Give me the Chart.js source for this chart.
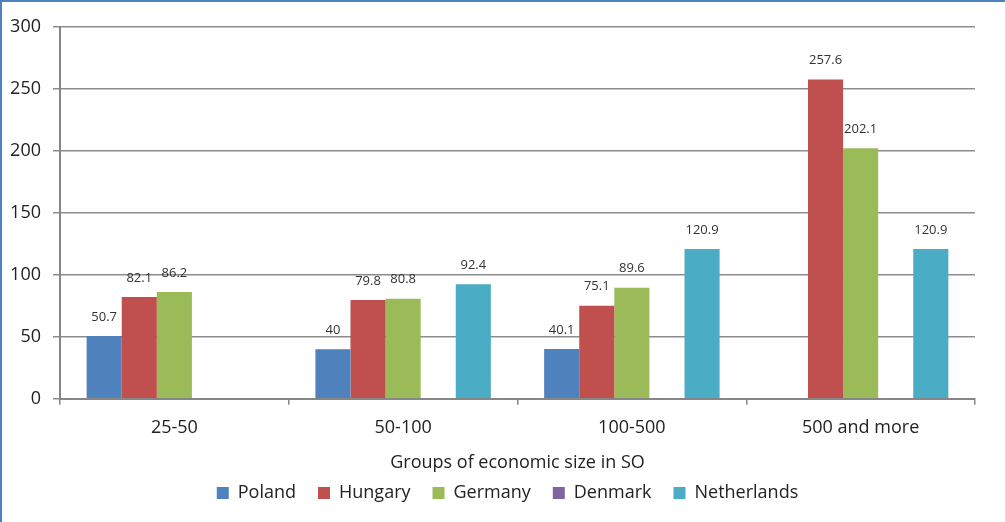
<!DOCTYPE html>
<html>
<head>
<meta charset="utf-8">
<script src="https://cdn.jsdelivr.net/npm/chart.js@4/dist/chart.umd.min.js"></script>
<style>
  html, body { margin: 0; padding: 0; background: #fff; }
  #wrap { width: 1006px; height: 522px; position: relative; }
</style>
</head>
<body>
<div id="wrap"><canvas id="myChartBar"></canvas></div>
<script>
// groups and values per country (SO = standard output)
const groups = ['25-50', '50-100', '100-500', '500 and more'];
const poland = [50.7, 40, 40.1, null];
const hungary = [82.1, 79.8, 75.1, 257.6];
const germany = [86.2, 80.8, 89.6, 202.1];
const denmark = [null, null, null, null];
const netherlands = [null, 92.4, 120.9, 120.9];
const yTicks = [0, 50, 100, 150, 200, 250, 300];

const font = '"Open Sans", Lato, sans-serif';

// frame around the whole picture
const frame = {
  id: 'frame',
  beforeDraw(chart) {
    const c = chart.ctx;
    c.save();
    c.fillStyle = '#fff';
    c.fillRect(0, 0, chart.width, chart.height);
    c.strokeStyle = '#4F81BD';
    c.lineWidth = 2;
    c.beginPath();
    c.moveTo(1, chart.height);
    c.lineTo(1, 1);
    c.lineTo(chart.width, 1);
    c.stroke();
    c.strokeStyle = '#e0e0e0';
    c.lineWidth = 1;
    c.beginPath();
    c.moveTo(chart.width - 0.5, 0);
    c.lineTo(chart.width - 0.5, chart.height);
    c.stroke();
    c.restore();
  }
};

// move the legend a bit: centred under the plot, closer to the axis title
const legendShift = {
  id: 'legendShift',
  afterLayout(chart) {
    const lg = chart.legend;
    if (!lg) return;
    const h = lg.bottom - lg.top;
    lg.top = 462;
    lg.bottom = lg.top + h;
    lg.left += 20;
    lg.right += 20;
  }
};

// value above each bar
const barLabels = {
  id: 'barLabels',
  afterDatasetsDraw(chart) {
    const c = chart.ctx;
    c.save();
    c.font = '13px ' + font;
    c.fillStyle = '#333';
    c.textAlign = 'center';
    c.textBaseline = 'middle';
    chart.data.datasets.forEach((ds, i) => {
      chart.getDatasetMeta(i).data.forEach((bar, j) => {
        const v = ds.data[j];
        if (v == null) return;
        c.fillText(String(v), bar.x, bar.y - 19);
      });
    });
    c.restore();
  }
};

const ctx = document.getElementById('myChartBar');
new Chart(ctx, {
  type: 'bar',
  data: {
    labels: groups,
    datasets: [
      { label: 'Poland', data: poland, backgroundColor: '#4F81BD' },
      { label: 'Hungary', data: hungary, backgroundColor: '#C0504D' },
      { label: 'Germany', data: germany, backgroundColor: '#9BBB59' },
      { label: 'Denmark', data: denmark, backgroundColor: '#8064A2' },
      { label: 'Netherlands', data: netherlands, backgroundColor: '#4BACC6' }
    ]
  },
  options: {
    responsive: true,
    maintainAspectRatio: false,
    animation: false,
    datasets: { bar: { barPercentage: 1, categoryPercentage: 0.767 } },
    layout: { padding: { left: 0, right: 31, top: 27, bottom: -2 } },
    plugins: {
      tooltip: { enabled: false },
      legend: {
        position: 'bottom',
        labels: {
          font: { family: font, size: 18 },
          color: '#222',
          boxWidth: 12,
          boxHeight: 12,
          padding: 22
        }
      }
    },
    scales: {
      x: {
        grid: { display: true, drawOnChartArea: false, offset: true, color: '#868686', tickLength: 6, lineWidth: 1.5 },
        border: { color: '#868686', width: 2 },
        ticks: { font: { family: font, size: 18 }, color: '#222', padding: 12 },
        title: {
          display: true,
          text: 'Groups of economic size in SO',
          font: { family: font, size: 18 },
          color: '#222',
          padding: { top: 2, bottom: 0 }
        }
      },
      y: {
        min: 0,
        max: 300,
        afterBuildTicks(axis) { axis.ticks = yTicks.map(v => ({ value: v })); },
        afterFit(axis) { axis.width = 60; },
        grid: { color: '#8c8c8c', lineWidth: 1.5, tickLength: 7 },
        border: { color: '#868686', width: 2 },
        ticks: { font: { family: font, size: 18 }, color: '#222', padding: 12 }
      }
    }
  },
  plugins: [frame, legendShift, barLabels]
});
</script>
</body>
</html>
